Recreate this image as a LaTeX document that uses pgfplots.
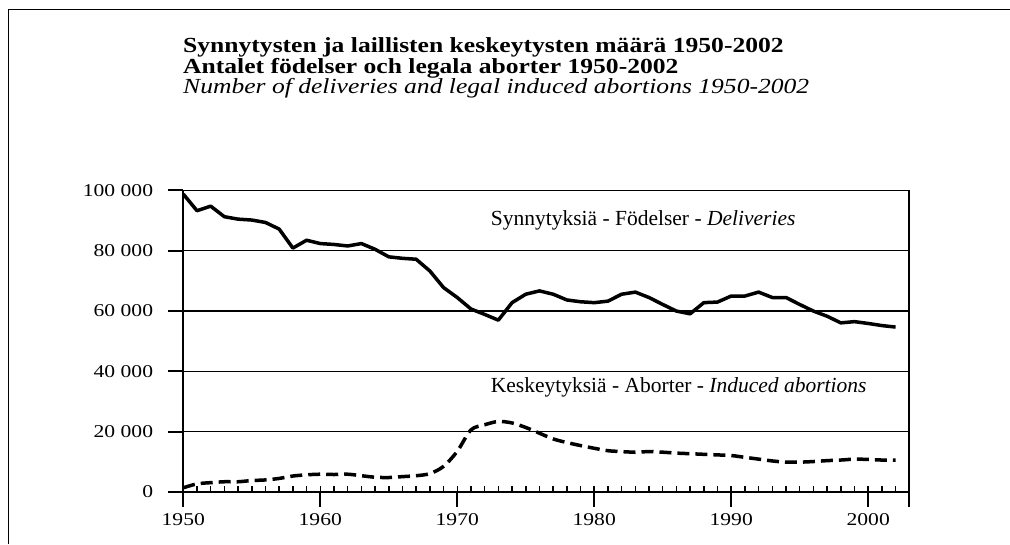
\documentclass[border=0pt]{standalone}
\usepackage{fontspec}
\setmainfont{Liberation Serif}
\newfontfamily\ttl[FakeStretch=1.19]{Liberation Serif}
\newfontfamily\tck[FakeStretch=1.2]{Liberation Serif}
\usepackage{pgfplots}
\pgfplotsset{compat=1.18}
\pgfplotstableread{
year births
1950 98800
1951 93300
1952 94800
1953 91300
1954 90500
1955 90200
1956 89400
1957 87200
1958 80900
1959 83500
1960 82400
1961 82100
1962 81600
1963 82400
1964 80500
1965 78000
1966 77500
1967 77200
1968 73300
1969 67800
1970 64500
1971 60700
1972 58900
1973 57000
1974 62800
1975 65600
1976 66700
1977 65600
1978 63700
1979 63100
1980 62800
1981 63300
1982 65600
1983 66300
1984 64500
1985 62200
1986 60000
1987 59100
1988 62800
1989 63000
1990 65000
1991 65000
1992 66300
1993 64500
1994 64500
1995 62200
1996 60000
1997 58300
1998 56100
1999 56500
2000 55900
2001 55200
2002 54700
}\births
\pgfplotstableread{
year abort
1950 1400
1951 2700
1952 3100
1953 3400
1954 3400
1955 3800
1956 4000
1957 4500
1958 5300
1959 5700
1960 5900
1961 5800
1962 5900
1963 5400
1964 4900
1965 4800
1966 5100
1967 5400
1968 6100
1969 8500
1970 13500
1971 20600
1972 22300
1973 23400
1974 22900
1975 21400
1976 19500
1977 17600
1978 16400
1979 15400
1980 14500
1981 13700
1982 13400
1983 13200
1984 13400
1985 13200
1986 12900
1987 12700
1988 12500
1989 12300
1990 12100
1991 11500
1992 10900
1993 10300
1994 9900
1995 9900
1996 10100
1997 10400
1998 10600
1999 10900
2000 10800
2001 10600
2002 10600
}\aborts
\begin{document}
\begin{tikzpicture}
\path[use as bounding box] (0,0) rectangle (1010pt,544pt);
\draw[line width=1.8pt] (8.5pt,0) -- (8.5pt,534.5pt) -- (1010pt,534.5pt);
\node[anchor=base west, inner sep=0pt] at (183pt,491pt) {\fontsize{21.5}{21}\ttl\bfseries Synnytysten ja laillisten keskeytysten määrä 1950-2002};
\node[anchor=base west, inner sep=0pt] at (183pt,470pt) {\fontsize{21.5}{21}\ttl\bfseries Antalet födelser och legala aborter 1950-2002};
\node[anchor=base west, inner sep=0pt] at (183pt,450pt) {\fontsize{21.5}{21}\ttl\itshape Number of deliveries and legal induced abortions 1950-2002};
\begin{axis}[
  name=ax,
  at={(183.3pt,52pt)}, anchor=south west,
  scale only axis, width=726pt, height=301.5pt,
  xmin=1950, xmax=2003, ymin=0, ymax=100000,
  axis line style={line width=1.8pt},
  xtick=\empty,
  ytick={0,20000,40000,60000,80000,100000},
  yticklabels={,,,,,},
  scaled y ticks=false,
  major tick length=0pt,
  tick style={draw=none},
  ymajorgrids,
  major grid style={black, line width=1.2pt},
  clip=false,
]
\addplot[black, line width=3.5pt, line join=round] table[x=year, y=births] {\births};
\addplot[black, line width=3.5pt, smooth, dash pattern=on 12pt off 6pt] table[x=year, y=abort] {\aborts};
\pgfplotsinvokeforeach{1951,1952,...,2002}{
  \draw[black, line width=1.5pt] (axis cs:#1,0) -- ++(0pt,6pt);
}
\pgfplotsinvokeforeach{1950,1960,1970,1980,1990,2000}{
  \node[anchor=base, inner sep=0pt, font=\fontsize{18}{18}\tck, yshift=-33pt] at (axis cs:#1,0) {#1};
}
\node[anchor=east, inner sep=0pt, font=\fontsize{18}{18}\tck, xshift=-30pt] at (axis cs:1950,0) {0};
\node[anchor=east, inner sep=0pt, font=\fontsize{18}{18}\tck, xshift=-30pt] at (axis cs:1950,20000) {20 000};
\node[anchor=east, inner sep=0pt, font=\fontsize{18}{18}\tck, xshift=-30pt] at (axis cs:1950,40000) {40 000};
\node[anchor=east, inner sep=0pt, font=\fontsize{18}{18}\tck, xshift=-30pt] at (axis cs:1950,60000) {60 000};
\node[anchor=east, inner sep=0pt, font=\fontsize{18}{18}\tck, xshift=-30pt] at (axis cs:1950,80000) {80 000};
\node[anchor=east, inner sep=0pt, font=\fontsize{18}{18}\tck, xshift=-30pt] at (axis cs:1950,100000) {100 000};
\node[anchor=base west, inner sep=0pt, font=\fontsize{21.5}{22}\selectfont] at (axis cs:1972.44,88300) {Synnytyksiä - Födelser - \textit{Deliveries}};
\node[anchor=base west, inner sep=0pt, font=\fontsize{21.5}{22}\selectfont] at (axis cs:1972.44,32850) {Keskeytyksiä - Aborter - \textit{Induced abortions}};
\end{axis}
% outward major ticks on the axis frame
\draw[black, line width=2pt]
  (183.3pt,52pt) -- (183.3pt,37pt)
  (320.28pt,52pt) -- (320.28pt,37pt)
  (457.26pt,52pt) -- (457.26pt,37pt)
  (594.24pt,52pt) -- (594.24pt,37pt)
  (731.22pt,52pt) -- (731.22pt,37pt)
  (868.2pt,52pt) -- (868.2pt,37pt)
  (909.3pt,52pt) -- (909.3pt,37pt)
  (183.3pt,52pt) -- (168.3pt,52pt)
  (183.3pt,112.3pt) -- (168.3pt,112.3pt)
  (183.3pt,172.6pt) -- (168.3pt,172.6pt)
  (183.3pt,232.9pt) -- (168.3pt,232.9pt)
  (183.3pt,293.2pt) -- (168.3pt,293.2pt)
  (183.3pt,353.5pt) -- (168.3pt,353.5pt);
\end{tikzpicture}
\end{document}
